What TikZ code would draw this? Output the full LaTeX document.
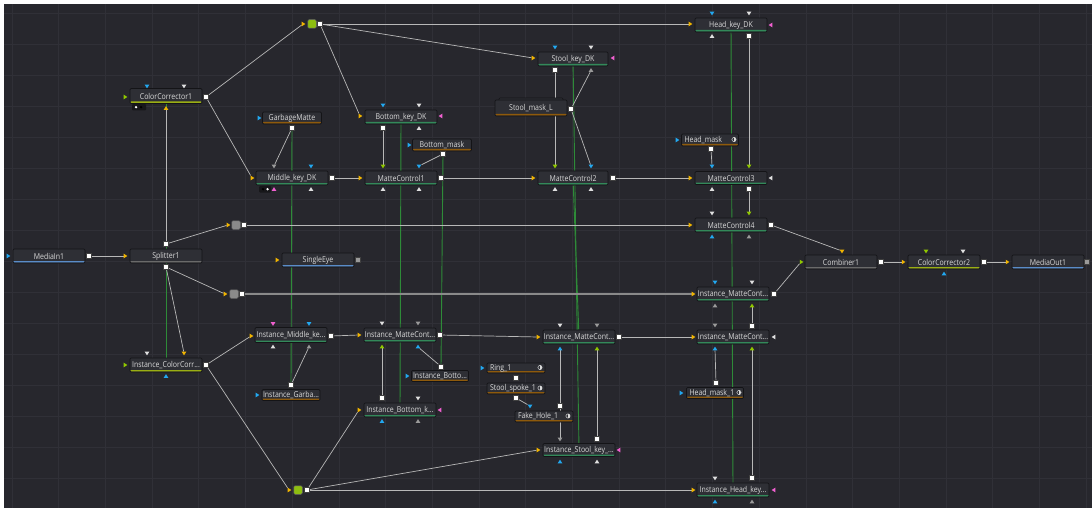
\documentclass[tikz,border=0pt]{standalone}
\usepackage{fontspec}
\newfontfamily\nodefont{Open Sans}[FakeStretch=0.86]
\usetikzlibrary{shapes.geometric}
\definecolor{bgc}{HTML}{27272D}
\definecolor{gridc}{HTML}{303037}
\definecolor{nodefill}{HTML}{2E2F35}
\definecolor{nodeedge}{HTML}{141417}
\definecolor{txt}{HTML}{DADADA}
\definecolor{wirec}{HTML}{B8B8B8}
\definecolor{wire2}{HTML}{8A8A8A}
\definecolor{instc}{HTML}{2E8B38}
\definecolor{ulcc}{HTML}{9AAE14}
\definecolor{ulk}{HTML}{33895A}
\definecolor{ulm}{HTML}{8E5A0C}
\definecolor{ulg}{HTML}{6A6A6A}
\definecolor{ulb}{HTML}{5A8CC8}
\definecolor{py}{HTML}{F0B400}
\definecolor{pb}{HTML}{22A8F0}
\definecolor{pg}{HTML}{90C800}
\definecolor{pp}{HTML}{F060D0}
\definecolor{pw}{HTML}{E0E0E0}
\definecolor{pgr}{HTML}{9A9A9A}
\definecolor{rgreen}{HTML}{8DBE10}
\definecolor{rgray}{HTML}{8A8A8A}
\definecolor{badgec}{HTML}{17171A}
\pgfdeclarelayer{bg}\pgfdeclarelayer{wires}\pgfsetlayers{bg,wires,main}
\tikzset{
 fnode/.style={draw=nodeedge, fill=nodefill, rounded corners=1.2pt, line width=0.7pt, inner sep=0pt, text=txt, font=\nodefont\fontsize{8.1}{8.5}\selectfont, minimum height=14pt, minimum width=72pt},
 ul/.style={path picture={\fill[#1] ([yshift=0.4pt]path picture bounding box.south west) rectangle ([yshift=2pt]path picture bounding box.south east);}},
 mleft/.style={align=left, text width=#1, inner xsep=3pt},
 tri/.style={isosceles triangle, isosceles triangle stretches, inner sep=0pt, minimum height=3.6pt, minimum width=4.6pt, draw=none},
 pR/.style={tri, fill=#1, shape border rotate=0},
 pL/.style={tri, fill=#1, shape border rotate=180},
 pD/.style={tri, fill=#1, shape border rotate=270},
 pU/.style={tri, fill=#1, shape border rotate=90},
 osq/.style={draw=black!75, fill=#1, minimum size=4.8pt, inner sep=0pt, line width=0.4pt},
 osq/.default=white,
 router/.style={draw=black!60, fill=#1, minimum size=8.5pt, rounded corners=1.2pt, inner sep=0pt, line width=0.5pt},
 icon/.style={circle, draw=txt, line width=0.5pt, minimum size=4.2pt, inner sep=0pt, path picture={\fill[txt] (path picture bounding box.north) rectangle (path picture bounding box.south east);}},
 wire/.style={draw=wirec, line width=0.7pt},
 wwide/.style={draw=wire2, line width=1.6pt},
 inst/.style={draw=instc, line width=0.9pt}
}
\begin{document}
\begin{tikzpicture}[x=1pt,y=-1pt]
\useasboundingbox (0,0) rectangle (1092,508);
\begin{pgfonlayer}{bg}
\fill[bgc] (0,0) rectangle (1092,508);
\foreach \k in {0,...,23} \draw[gridc, line width=0.8pt] ({12+46.7*\k},4) -- ({12+46.7*\k},508);
\foreach \k in {0,...,16} \draw[gridc, line width=0.8pt] (4,{13+31*\k}) -- (1092,{13+31*\k});
\fill[white] (0,0) rectangle (1092,4);
\fill[white] (0,0) rectangle (4,508);
\end{pgfonlayer}

% ---------- ColorCorrector1
\node[fnode, minimum height=15pt, ul=ulcc] (cc1) at (166,96) {ColorCorrector1};
\node[pR=pg] (cc1i) at (125,97) {};
\node[pD=pb] (cc1t1) at (147,86) {};
\node[pD=pw] (cc1t2) at (184,86) {};
\node[pU=py] (cc1b) at (166,108.5) {};
\node[osq] (cc1o) at (206,97) {};
\fill[badgec, rounded corners=1pt] (132,104) rectangle (146,110.5);
\fill[white] (136,107.2) circle (1.3);
\fill[black] (141,107.2) circle (1.3);
% router green top
\node[router=rgreen] (rg1) at (312,24) {};
\node[pR=py] (rg1i) at (303,24) {};
\node[osq] (rg1o) at (320,24) {};
% GarbageMatte
\node[fnode, minimum width=59pt, minimum height=12pt, ul=ulm] (gm) at (292,118) {GarbageMatte};
\node[pR=pb] (gmi) at (259,118) {};
\node[osq] (gmo) at (292,128) {};
% Middle_key_DK
\node[fnode, ul=ulk] (mkd) at (292,178) {Middle\_key\_DK};
\node[pR=py] (mkdi) at (252,178) {};
\node[pD=pgr] (mkdt1) at (274,166) {};
\node[pD=pb] (mkdt2) at (311,166) {};
\node[pU=pp] (mkdb1) at (274,189.5) {};
\node[pU=pw] (mkdb2) at (311,189.5) {};
\node[osq] (mkdo) at (332,178) {};
\fill[badgec, rounded corners=1pt] (259,186) rectangle (271,192.5);
\fill[black] (263,189.2) circle (1.3);
\fill[white] (267.5,189.2) circle (1.3);
% Head_key_DK
\node[fnode, ul=ulk] (hkd) at (731,25) {Head\_key\_DK};
\node[pR=py] (hkdi) at (690,24) {};
\node[pL=pp] (hkdp) at (771,25) {};
\node[pD=pb] (hkdt1) at (712,13) {};
\node[pD=pw] (hkdt2) at (749,13) {};
\node[pU=pw] (hkdb1) at (712,36.5) {};
\node[osq] (hkdo) at (749,36) {};
% Stool_key_DK
\node[fnode, minimum width=70pt, ul=ulk] (skd) at (573,59) {Stool\_key\_DK};
\node[pR=py] (skdi) at (533,58) {};
\node[pL=pp] (skdp) at (613,58) {};
\node[pD=pb] (skdt1) at (555,47) {};
\node[pD=pw] (skdt2) at (591,47) {};
\node[osq] (skdo) at (555,70) {};
\node[pU=pgr] (skdb2) at (591,70.5) {};
% Stool_mask_L
\node[fill=nodefill, draw=nodeedge, line width=0.6pt, minimum width=64pt, minimum height=6pt, rounded corners=1pt, inner sep=0pt] (smltab) at (531,101) {};
\node[fnode, minimum height=16pt, ul=ulm] (sml) at (531,108) {Stool\_mask\_L};
\node[osq] (smlo) at (571,109) {};
% Bottom_key_DK
\node[fnode, ul=ulk] (bkd) at (401,117) {Bottom\_key\_DK};
\node[pR=py] (bkdi) at (360,116) {};
\node[pL=pp] (bkdp) at (441,116) {};
\node[pD=pb] (bkdt1) at (383,105) {};
\node[pD=pw] (bkdt2) at (419,105) {};
\node[osq] (bkdo) at (383,128) {};
\node[pU=pw] (bkdb2) at (419,128.5) {};
% Bottom_mask
\node[fnode, minimum width=59pt, minimum height=12pt, ul=ulm] (bm) at (442,145) {Bottom\_mask};
\node[pR=pb] (bmi) at (409,145) {};
\node[osq] (bmo) at (443,154) {};
% MatteControl1
\node[fnode, ul=ulk] (mc1) at (401,178) {MatteControl1};
\node[pR=py] (mc1i) at (360,178) {};
\node[pD=pg] (mc1t1) at (383,166) {};
\node[pD=pb] (mc1t2) at (419,166) {};
\node[pU=pw] (mc1b1) at (383,189.5) {};
\node[pU=pw] (mc1b2) at (419,189.5) {};
\node[osq] (mc1o) at (441,178) {};
% MatteControl2
\node[fnode, minimum width=70pt, ul=ulk] (mc2) at (573,178) {MatteControl2};
\node[pR=py] (mc2i) at (533,178) {};
\node[pD=pg] (mc2t1) at (555,166) {};
\node[pD=pb] (mc2t2) at (591,166) {};
\node[pU=pw] (mc2b1) at (555,189.5) {};
\node[pU=pw] (mc2b2) at (591,189.5) {};
\node[osq] (mc2o) at (613,178) {};
% MatteControl3
\node[fnode, minimum height=13pt, ul=ulk] (mc3) at (731,178) {MatteControl3};
\node[pR=py] (mc3i) at (690,178) {};
\node[pD=pb] (mc3t1) at (712,166) {};
\node[pD=pg] (mc3t2) at (749,166) {};
\node[pL=pw] (mc3p) at (771,178) {};
\node[pU=pw] (mc3b1) at (712,189.5) {};
\node[osq] (mc3o) at (749,189) {};
% Head_mask
\node[fnode, minimum width=57pt, minimum height=12pt, ul=ulm, mleft=51pt] (hm) at (710,140) {Head\_mask};
\node[icon] (hmic) at (734,139.5) {};
\node[pR=pb] (hmi) at (677,140) {};
\node[osq] (hmo) at (711,149) {};
% MatteControl4
\node[fnode, ul=ulk] (mc4) at (731,225) {MatteControl4};
\node[pR=py] (mc4i) at (690,225) {};
\node[pD=pw] (mc4t1) at (712,213) {};
\node[pD=pg] (mc4t2) at (749,213) {};
\node[pU=pb] (mc4b1) at (712,237) {};
\node[pU=pgr] (mc4b2) at (749,237) {};
\node[osq] (mc4o) at (771,225) {};
% Combiner1
\node[fnode, ul=ulg] (comb) at (841,262) {Combiner1};
\node[pR=pg] (combi) at (801,262) {};
\node[pD=py] (combt) at (842,251) {};
\node[osq] (combo) at (881,262) {};
% ColorCorrector2
\node[fnode, ul=ulcc] (cc2) at (944,262) {ColorCorrector2};
\node[pR=py] (cc2i) at (903,262) {};
\node[pD=pg] (cc2t1) at (926,251) {};
\node[pD=pw] (cc2t2) at (963,251) {};
\node[pU=pb] (cc2b) at (944,274) {};
\node[osq] (cc2o) at (984,262) {};
% MediaOut1
\node[fnode, ul=ulb] (mo) at (1048,262) {MediaOut1};
\node[pR=py] (moi) at (1007,262) {};
\node[osq=pgr] (moo) at (1087,262) {};
% Instance_MatteCont (4)
\node[fnode, ul=ulk] (imc4) at (733,294) {Instance\_MatteCont...};
\node[pR=py] (imc4i) at (693,294) {};
\node[pD=pb] (imc4t1) at (715,282) {};
\node[pD=pw] (imc4t2) at (752,282) {};
\node[pU=pgr] (imc4b1) at (715,306) {};
\node[pU=pg] (imc4b2) at (752,306) {};
\node[osq] (imc4o) at (774,294) {};
% Instance_MatteCont (3)
\node[fnode, ul=ulk] (imc3) at (733,337) {Instance\_MatteCont...};
\node[pR=py] (imc3i) at (693,337) {};
\node[pD=pgr] (imc3t1) at (715,325) {};
\node[osq] (imc3o) at (752,326) {};
\node[pL=pw] (imc3p) at (774,337) {};
\node[pU=pb] (imc3b1) at (715,349) {};
\node[pU=pg] (imc3b2) at (752,349) {};
% Head_mask_1
\node[fnode, minimum width=57pt, minimum height=11pt, ul=ulm, mleft=51pt] (hm1) at (715,393) {Head\_mask\_1};
\node[icon] (hm1ic) at (739,392.5) {};
\node[pR=pb] (hm1i) at (681,393) {};
\node[osq] (hm1o) at (716,383) {};
% Instance_Head_key
\node[fnode, ul=ulk] (ihk) at (733,490) {Instance\_Head\_key...};
\node[pR=py] (ihki) at (693,490) {};
\node[pL=pp] (ihkp) at (774,490) {};
\node[pD=pw] (ihkt1) at (715,478) {};
\node[osq] (ihko) at (752,478) {};
\node[pU=pb] (ihkb1) at (715,502) {};
\node[pU=pgr] (ihkb2) at (752,502) {};
% MediaIn1
\node[fnode, ul=ulb] (mi) at (49,256) {MediaIn1};
\node[pR=pb] (mii) at (8,256) {};
\node[osq] (mio) at (89,256) {};
% Splitter1
\node[fnode, ul=ulg] (sp) at (166,256) {Splitter1};
\node[pR=py] (spi) at (125,256) {};
\node[osq] (spot) at (166,244) {};
\node[osq] (spob) at (166,267) {};
% gray routers
\node[router=rgray] (rgr1) at (236,225) {};
\node[pR=py] (rgr1i) at (228,225) {};
\node[osq] (rgr1o) at (244,225) {};
\node[router=rgray] (rgr2) at (234,294) {};
\node[pR=py] (rgr2i) at (225,294) {};
\node[osq] (rgr2o) at (242,294) {};
% SingleEye
\node[fnode, ul=ulb] (se) at (318,260) {SingleEye};
\node[pR=py] (sei) at (277,260) {};
\node[osq=pgr] (seo) at (358,260) {};
% Instance_Middle_ke
\node[fnode, minimum height=15pt, ul=ulk] (imk) at (291,335) {Instance\_Middle\_ke...};
\node[pR=py] (imki) at (251,336) {};
\node[pD=pp] (imkt1) at (273,323.5) {};
\node[pD=pb] (imkt2) at (309,323.5) {};
\node[pU=pw] (imkb1) at (273,347) {};
\node[pU=pgr] (imkb2) at (309,347) {};
\node[osq] (imko) at (331,336) {};
% Instance_ColorCorr
\node[fnode, ul=ulcc] (icc) at (166,365) {Instance\_ColorCorr...};
\node[pR=pg] (icci) at (125,365) {};
\node[pD=pw] (icct1) at (147,353) {};
\node[pD=py] (icct2) at (184,353) {};
\node[pU=pb] (iccb) at (166,376.5) {};
\node[osq] (icco) at (206,365) {};
% Instance_Garba
\node[fnode, minimum width=58pt, minimum height=11pt, ul=ulm] (ig) at (291,395) {Instance\_Garba...};
\node[pR=pb] (igi) at (257,395) {};
\node[osq] (igo) at (291,385) {};
% Instance_MatteCont (1)
\node[fnode, ul=ulk] (imc1) at (400,335) {Instance\_MatteCont...};
\node[pR=py] (imc1i) at (359,335) {};
\node[pD=pw] (imc1t1) at (382,323) {};
\node[pD=pgr] (imc1t2) at (418,323) {};
\node[pU=pg] (imc1b1) at (382,347) {};
\node[pU=pb] (imc1b2) at (418,347) {};
\node[osq] (imc1o) at (440,335) {};
% Instance_Botto
\node[fnode, minimum width=57pt, minimum height=11pt, ul=ulm] (ib) at (440,376) {Instance\_Botto...};
\node[pR=pb] (ibi) at (407,376) {};
\node[osq] (ibo) at (441,366.5) {};
% Instance_Bottom_k
\node[fnode, ul=ulk] (ibk) at (400,410) {Instance\_Bottom\_k...};
\node[pR=py] (ibki) at (359,410) {};
\node[pL=pp] (ibkp) at (440,410) {};
\node[osq] (ibko) at (382,398) {};
\node[pD=pw] (ibkt2) at (418,398) {};
\node[pU=pb] (ibkb1) at (382,421.5) {};
\node[pU=pgr] (ibkb2) at (418,421.5) {};
% Instance_MatteCont (2)
\node[fnode, ul=ulk] (imc2) at (579,337) {Instance\_MatteCont...};
\node[pR=py] (imc2i) at (538,337) {};
\node[pD=pw] (imc2t1) at (560,325) {};
\node[pD=pgr] (imc2t2) at (597,325) {};
\node[pU=pb] (imc2b1) at (560,349) {};
\node[pU=pg] (imc2b2) at (597,349) {};
\node[osq] (imc2o) at (619,337) {};
% Ring_1
\node[fnode, minimum width=58pt, minimum height=10pt, ul=ulm, mleft=52pt] (r1) at (516,368) {Ring\_1};
\node[icon] (r1ic) at (540,367.5) {};
\node[pR=pb] (r1i) at (482,368) {};
\node[osq] (r1o) at (516,378) {};
% Stool_spoke_1
\node[fnode, minimum width=58pt, minimum height=11pt, ul=ulm, mleft=52pt] (ss1) at (516,388.5) {Stool\_spoke\_1};
\node[icon] (ss1ic) at (540,388) {};
\node[osq] (ss1o) at (516,398) {};
% Fake_Hole_1
\node[fnode, minimum width=58pt, minimum height=11pt, ul=ulm, mleft=52pt] (fh1) at (544,416.5) {Fake\_Hole\_1};
\node[icon] (fh1ic) at (568,416) {};
\node[pD=pb] (fh1t) at (530,406) {};
\node[osq] (fh1o) at (560,406) {};
% Instance_Stool_key
\node[fnode, minimum height=13pt, ul=ulk] (isk) at (579,450) {Instance\_Stool\_key\_...};
\node[pR=py] (iski) at (538,450) {};
\node[pL=pp] (iskp) at (619,450) {};
\node[pD=pgr] (iskt1) at (560,439) {};
\node[osq] (isko) at (597,439) {};
\node[pU=pb] (iskb1) at (560,462) {};
\node[pU=pw] (iskb2) at (597,462) {};
% router green bottom
\node[router=rgreen] (rg2) at (298,490) {};
\node[pR=py] (rg2i) at (289,490) {};
\node[osq] (rg2o) at (307,490) {};

\begin{pgfonlayer}{wires}
% instance links
\draw[inst] (cc1) -- (icc);
\draw[inst] (gmo) -- (igo);
\draw[inst] (bkd) -- (ibk);
\draw[inst] (bmo) -- (ibo);
\draw[inst] (skd) -- (isk);
\draw[inst] (mc2) -- (imc2);
\draw[inst] (hkd) -- (ihk);
% connectors
\draw[wire] (mio) -- (spi);
\draw[wire] (spot) -- (cc1b);
\draw[wire] (spot) -- (rgr1i);
\draw[wire] (spob) -- (icct2);
\draw[wire] (spob) -- (rgr2i);
\draw[wire] (cc1o) -- (rg1i);
\draw[wire] (cc1o) -- (mkdi);
\draw[wire] (rg1o) -- (hkdi);
\draw[wire] (rg1o) -- (skdi);
\draw[wire] (rg1o) -- (bkdi);
\draw[wire] (gmo) -- (mkdt1);
\draw[wire] (mkdo) -- (mc1i);
\draw[wire] (bkdo) -- (mc1t1);
\draw[wire] (bmo) -- (mc1t2);
\draw[wire] (mc1o) -- (mc2i);
\draw[wire] (skdo) -- (mc2t1);
\draw[wire] (smlo) -- (skdb2);
\draw[wire] (smlo) -- (mc2t2);
\draw[wire] (mc2o) -- (mc3i);
\draw[wire] (hkdo) -- (mc3t2);
\draw[wire] (hmo) -- (mc3t1);
\draw[wire] (mc3o) -- (mc4t2);
\draw[wire] (rgr1o) -- (mc4i);
\draw[wire] (mc4o) -- (combt);
\draw[wwide] (rgr2o) -- (imc4i);
\draw[wire] (imc4o) -- (combi);
\draw[wire] (combo) -- (cc2i);
\draw[wire] (cc2o) -- (moi);
\draw[wire] (icco) -- (imki);
\draw[wire] (icco) -- (rg2i);
\draw[wire] (igo) -- (imkb2);
\draw[wire] (imko) -- (imc1i);
\draw[wire] (ibko) -- (imc1b1);
\draw[wire] (ibo) -- (imc1b2);
\draw[wire] (imc1o) -- (imc2i);
\draw[wire] (rg2o) -- (ibki);
\draw[wire] (rg2o) -- (iski);
\draw[wire] (rg2o) -- (ihki);
\draw[wire] (ss1o) -- (fh1t);
\draw[wire] (fh1o) -- (imc2b1);
\draw[wire] (fh1o) -- (iskt1);
\draw[wire] (isko) -- (imc2b2);
\draw[wire] (imc2o) -- (imc3i);
\draw[wire] (imc3o) -- (imc4b2);
\draw[wire] (hm1o) -- (imc3b1);
\draw[wire] (ihko) -- (imc3b2);
\end{pgfonlayer}
\end{tikzpicture}
\end{document}
